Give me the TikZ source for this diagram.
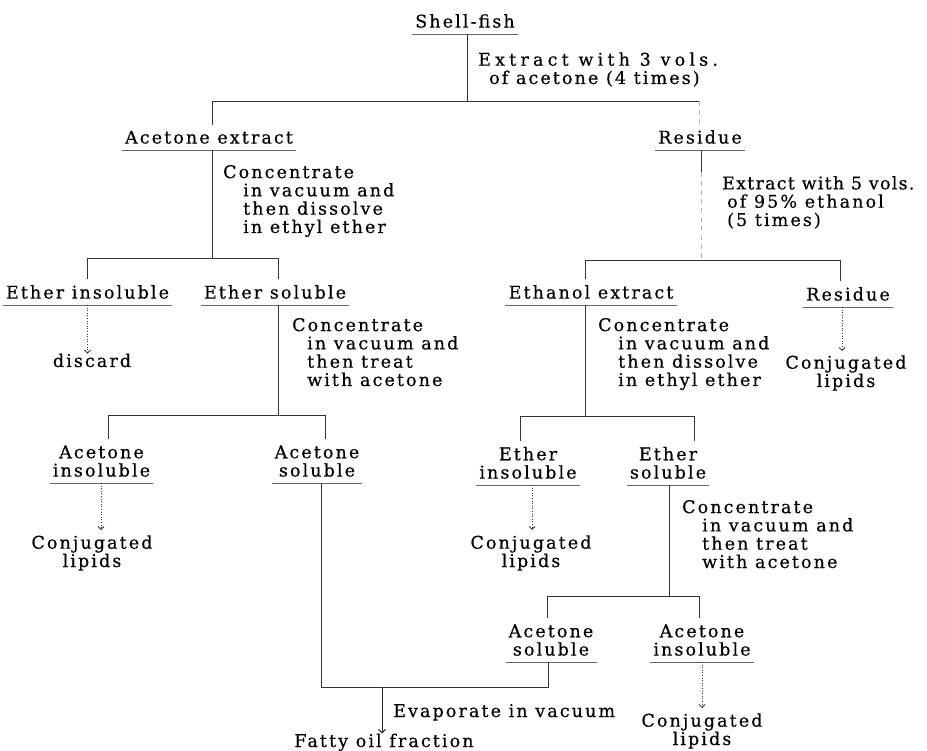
\documentclass[tikz,border=0pt]{standalone}
\usepackage{fontspec}
\setmainfont{DejaVu Serif}[LetterSpace=12,FakeBold=0.4]
\usetikzlibrary{arrows.meta}
\begin{document}
\begin{tikzpicture}[x=1pt,y=-1pt,
  every node/.style={font=\fontsize{17.5}{18.3}\selectfont},
  lab/.style={inner xsep=3pt,inner ysep=6pt,align=center,
    append after command={(\tikzlastnode.south west) edge[ul] (\tikzlastnode.south east)}},
  txt/.style={inner sep=0pt,align=center},
  desc/.style={inner sep=0pt,align=left,anchor=base west},
  ln/.style={line width=0.8pt,draw=black!80},
  ul/.style={line width=0.7pt,draw=black!60},
  faint/.style={line width=0.6pt,draw=black!30,dash pattern=on 5pt off 4pt},
  dotarr/.style={line width=0.7pt,draw=black!80,dash pattern=on 1pt off 1.6pt,
    -{Straight Barb[length=3pt,width=6pt,line width=0.8pt]}},
  solarr/.style={line width=0.9pt,draw=black!85,-{Straight Barb[length=3.5pt,width=7pt,line width=0.9pt]}}]
\useasboundingbox (0,0) rectangle (927,751);

% ---- top
\node[lab,anchor=south] (shell) at (465,34) {Shell-fish};
\node[desc] (d1) at (478,84) {\addfontfeature{LetterSpace=24}Extract with 3 vols.\\\hspace*{11pt}of acetone (4 times)};
\node[lab,anchor=south] (acex) at (209,150) {Acetone extract};
\node[lab,anchor=south] (res1) at (700,150) {Residue};
\coordinate (t1) at (212,101);
\coordinate (t2) at (699,101);
\coordinate (t0) at (467,101);
\draw[ln] (t0 |- shell.south) -- (t0);
\draw[ln] (t1) -- (t2);
\draw[ln] (t1) -- (t1 |- acex.north);
\draw[faint] (t2) -- (t2 |- res1.north);

% ---- acetone extract branch
\node[desc] (d2) at (223,233) {Concentrate\\\hspace*{20pt}in vacuum and\\\hspace*{20pt}then dissolve\\\hspace*{20pt}in ethyl ether};
\coordinate (a1) at (212,258);
\coordinate (a2) at (87,258);
\coordinate (a3) at (278,258);
\node[lab,anchor=south] (einsol) at (87.5,305) {Ether insoluble};
\node[lab,anchor=south] (esol) at (275,305) {Ether soluble};
\draw[ln] (a1 |- acex.south) -- (a1);
\draw[ln] (a2) -- (a3);
\draw[ln] (a2) -- (a2 |- einsol.north);
\draw[ln] (a3) -- (a3 |- esol.north);

% ---- residue branch
\node[desc] (d3) at (722,226) {\addfontfeature{LetterSpace=7}Extract with 5 vols.\\\hspace*{5pt}of 95\% ethanol\\\hspace*{5pt}(5 times)};
\coordinate (r1) at (701,260);
\coordinate (r2) at (585,260);
\coordinate (r3) at (840,260);
\coordinate (r0) at (701,172);
\draw[ln] (r0 |- res1.south) -- (r0);
\draw[faint] (r0) -- (r1);
\draw[ln] (r2) -- (r3);
\node[lab,anchor=south] (etex) at (591,305) {Ethanol extract};
\node[lab,anchor=south] (res2) at (848,307) {Residue};
\draw[ln] (r2) -- (r2 |- etex.north);
\draw[ln] (r3) -- (r3 |- res2.north);

% ---- discard / conjugated (residue)
\node[txt,anchor=base] (disc) at (92,367) {discard};
\draw[dotarr] (einsol.south) -- (einsol.south |- disc.north);
\node[txt,anchor=base] (cl1) at (846,387) {Conjugated\\lipids};
\coordinate (g1) at (842,351);
\draw[dotarr] (g1 |- res2.south) -- (g1);

% ---- ether soluble branch (left)
\node[desc] (d4) at (292,386) {Concentrate\\\hspace*{15pt}in vacuum and\\\hspace*{15pt}then treat\\\hspace*{15pt}with acetone};
\coordinate (b1) at (278,415);
\coordinate (b2) at (108,415);
\coordinate (b3) at (325,415);
\node[lab,anchor=south] (ains1) at (101.5,483) {Acetone\\insoluble};
\node[lab,anchor=south] (asol1) at (317,483) {Acetone\\soluble};
\draw[ln] (b1 |- esol.south) -- (b1);
\draw[ln] (b2) -- (b3);
\draw[ln] (b2) -- (b2 |- ains1.north);
\draw[ln] (b3) -- (b3 |- asol1.north);

% ---- ethanol extract branch
\node[desc] (d5) at (598,386) {Concentrate\\\hspace*{20pt}in vacuum and\\\hspace*{20pt}then dissolve\\\hspace*{20pt}in ethyl ether};
\coordinate (c1) at (585,416);
\coordinate (c2) at (520,416);
\coordinate (c3) at (694,416);
\node[lab,anchor=south] (einsol2) at (528,485) {Ether\\insoluble};
\node[lab,anchor=south] (esol2) at (668,485) {Ether\\soluble};
\draw[ln] (c1 |- etex.south) -- (c1);
\draw[ln] (c2) -- (c3);
\draw[ln] (c2) -- (c2 |- einsol2.north);
\draw[ln] (c3) -- (c3 |- esol2.north);

% ---- conjugated lipids (row 2)
\node[txt,anchor=base] (cl2) at (92,567) {Conjugated\\lipids};
\coordinate (g2) at (101,530);
\draw[dotarr] (g2 |- ains1.south) -- (g2);
\node[txt,anchor=base] (cl3) at (531,567) {Conjugated\\lipids};
\coordinate (g3) at (532,530);
\draw[dotarr] (g3 |- einsol2.south) -- (g3);

% ---- ether soluble (right) branch
\node[desc] (d6) at (682,568) {Concentrate\\\hspace*{20pt}in vacuum and\\\hspace*{20pt}then treat\\\hspace*{20pt}with acetone};
\coordinate (f1) at (669,596);
\coordinate (f2) at (547,596);
\coordinate (f3) at (699,596);
\node[lab,anchor=south] (asol2) at (551,662) {Acetone\\soluble};
\node[lab,anchor=south] (ains2) at (702,662) {Acetone\\insoluble};
\draw[ln] (f1 |- esol2.south) -- (f1);
\draw[ln] (f2) -- (f3);
\draw[ln] (f2) -- (f2 |- asol2.north);
\draw[ln] (f3) -- (f3 |- ains2.north);
\node[txt,anchor=base] (cl4) at (702,745) {Conjugated\\lipids};
\coordinate (g4) at (702,708);
\draw[dotarr] (g4 |- ains2.south) -- (g4);

% ---- fatty oil
\coordinate (e1) at (321,687);
\coordinate (e2) at (548,687);
\coordinate (e3) at (382,687);
\node[txt,anchor=base] (fatty) at (384,747) {Fatty oil fraction};
\node[desc] (d7) at (393,717) {Evaporate in vacuum};
\draw[ln] (e1 |- asol1.south) -- (e1) -- (e2) -- (e2 |- asol2.south);
\draw[solarr] (e3) -- (e3 |- fatty.north);
\end{tikzpicture}
\end{document}
